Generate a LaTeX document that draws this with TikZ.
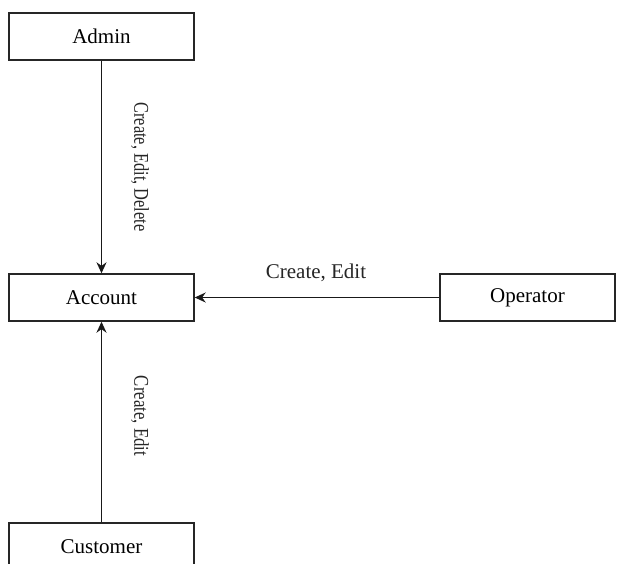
\documentclass[tikz,border=0pt]{standalone}
\usepackage{fontspec}
\setmainfont{Liberation Serif}
\usetikzlibrary{arrows.meta}
\begin{document}
\begin{tikzpicture}[x=1pt,y=-1pt,
  entity/.style={draw=black!85, line width=1.4pt, fill=white, minimum height=47pt,
    inner sep=0pt, font=\fontsize{21}{25}\selectfont},
  flow/.style={draw=black!90, line width=1.5pt, -{Stealth[length=11pt,width=10pt]}},
  lbl/.style={font=\fontsize{21}{25}\selectfont, inner sep=0pt, text=black!85},
  vlbl/.style={lbl, rotate=-90}]
\useasboundingbox (0,0) rectangle (617,563);
\clip (0,0) rectangle (617,563);
\fill[white] (0,0) rectangle (617,563);

% entities
\node[entity, minimum width=185pt] (admin)    at (101.5,36.5)  {Admin};
\node[entity, minimum width=185pt] (account)  at (101.5,297.5) {Account};
\node[entity, minimum width=175pt] (operator) at (527.5,297.5) {Operator};
\node[entity, minimum width=185pt] (customer) at (101.5,546.5) {Customer};

% connectors
\draw[flow] (admin.south) -- (account.north);
\draw[flow] (operator.west) -- (account.east);
\draw[flow] (customer.north) -- (account.south);

% labels
\node[vlbl] (l1) at (140,167) {\scalebox{0.78}[1]{Create, Edit, Delete}};
\node[lbl]  (l2) at (316,273) {Create, Edit};
\node[vlbl] (l3) at (140,416) {\scalebox{0.8}[1]{Create, Edit}};
\end{tikzpicture}
\end{document}
